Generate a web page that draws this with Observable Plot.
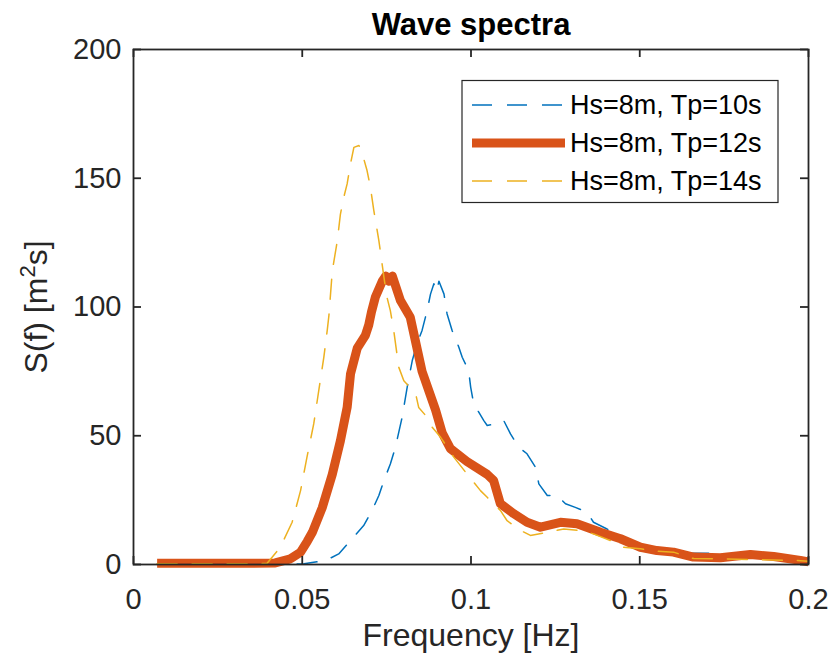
<!DOCTYPE html>
<html><head><meta charset="utf-8">
<script src="https://cdn.jsdelivr.net/npm/d3@7"></script>
<script src="https://cdn.jsdelivr.net/npm/@observablehq/plot@0.6"></script>
<style>html,body{margin:0;padding:0;background:#fff;}#chart{width:831px;height:659px;position:relative;}</style>
</head><body><div id="chart"></div>
<script>
// ---- data ----
const seriesNames = ["Hs=8m, Tp=10s", "Hs=8m, Tp=12s", "Hs=8m, Tp=14s"];
const seriesColors = ["#0072BD", "#D95319", "#EDB120"];

const freqTp10 = [0.007,0.03,0.045,0.0505,0.0569,0.0608,0.0643,0.0682,0.0707,0.0727,0.0742,0.0761,0.0776,0.0796,0.0811,0.0826,0.084,0.0855,0.087,0.088,0.089,0.0898,0.0905,0.092,0.0929,0.0944,0.0964,0.0974,0.0993,0.0999,0.1008,0.1038,0.1048,0.1073,0.1097,0.1117,0.1142,0.1166,0.1191,0.1201,0.1226,0.1255,0.128,0.1309,0.1344,0.1363,0.1403,0.145,0.15,0.155,0.16,0.165,0.17,0.175,0.18,0.19,0.2];
const specTp10 = [0,0,0.1,0.3,1.5,4.1,9.3,15.1,21,26.8,32.6,39,45.5,57.2,68.9,79.2,85.7,90.9,98.6,105,109,106,110,105,97.4,90.9,84.4,80.5,75.3,68.9,62.4,55.9,54,54.6,55.9,50.7,45.5,43,37.8,31.3,26.8,26.8,23.6,22.2,20.3,16.4,13.8,11,8,6.5,5,4.5,4.4,3.5,3,2.5,1.5];

const freqTp12 = [0.007,0.02,0.035,0.042,0.0465,0.0495,0.0515,0.053,0.0559,0.0589,0.0613,0.0633,0.0643,0.0663,0.0687,0.0697,0.0705,0.0717,0.0737,0.0747,0.0757,0.0767,0.0791,0.082,0.084,0.0855,0.0875,0.0895,0.0915,0.0939,0.0988,0.1048,0.1067,0.1087,0.1126,0.1166,0.1206,0.1265,0.1314,0.1384,0.1443,0.1502,0.1551,0.16,0.1659,0.1739,0.1828,0.1897,0.1976,0.2];
const specTp12 = [0.5,0.5,0.5,0.6,2.2,4.8,9,12.5,22,35,48,61,74,84,89,93,98,104,110,112,110,112,102.5,96,84,75,67.5,60,51,45,40,35,32.6,23.6,19.8,16.4,14.5,16.4,15.8,12.5,10,6.7,5.4,4.8,2.9,2.6,3.9,3.1,1.6,1];

const freqTp14 = [0.007,0.02,0.035,0.0396,0.0435,0.047,0.0495,0.0514,0.0534,0.0549,0.0564,0.0574,0.0579,0.0589,0.0604,0.0613,0.0623,0.0633,0.0643,0.0653,0.0668,0.0678,0.0692,0.0702,0.0712,0.0727,0.0742,0.0751,0.0761,0.0771,0.0786,0.0801,0.0836,0.0845,0.087,0.0885,0.091,0.0949,0.0988,0.1028,0.1048,0.1087,0.1107,0.1147,0.1176,0.1226,0.1275,0.1324,0.1363,0.1413,0.1452,0.1502,0.154,0.16,0.166,0.176,0.1857,0.1976,0.2];
const specTp14 = [0.3,0.3,0.3,0.5,6.7,16.4,28.7,41.7,54.6,67.6,80.5,90.9,96.7,114,125.8,136,142.6,147.8,155.6,162,162.7,159.5,153,146.5,137.5,125.8,111.6,103.8,98.6,90.9,76.6,71.4,66.3,61,57.2,53.3,49.4,41.7,35.2,28.7,26.1,21,17,13.2,11.3,12.5,13.8,13.2,11.9,9.3,6.7,6.1,5.2,4.8,2.3,2.1,1.9,1.5,1.3];

const xTicks = [0, 0.05, 0.1, 0.15, 0.2];
const xTickLabels = ["0", "0.05", "0.1", "0.15", "0.2"];
const yTicks = [0, 50, 100, 150, 200];
const yTickLabels = ["0", "50", "100", "150", "200"];
const titleText = "Wave spectra";
const xLabelText = "Frequency [Hz]";
const yLabelParts = ["S(f) [m", "2", "s]"];

// ---- layout ----
const W = 831, H = 659, mL = 133, mR = 23, mT = 49, mB = 95;
const fw = W - mL - mR, fh = H - mT - mB;
const tickLen = 8;
const axisColor = "#262626";
const dash = "20,15";
const font = "'Liberation Sans', Arial, Helvetica, sans-serif";

const rows = (fs, ss) => fs.map((f, i) => ({f, s: ss[i]}));
const rows10 = rows(freqTp10, specTp10);
const rows12 = rows(freqTp12, specTp12);
const rows14 = rows(freqTp14, specTp14);

const plot = Plot.plot({
  width: W, height: H,
  marginLeft: mL, marginRight: mR, marginTop: mT, marginBottom: mB,
  x: {domain: [0, 0.2]},
  y: {domain: [0, 200]},
  style: {fontFamily: font, background: "#fff", color: axisColor, overflow: "visible"},
  marks: [
    Plot.line(rows10, {x: "f", y: "s", stroke: seriesColors[0], strokeWidth: 1.5, strokeDasharray: dash}),
    Plot.line(rows12, {x: "f", y: "s", stroke: seriesColors[1], strokeWidth: 9, strokeLinejoin: "round", strokeLinecap: "butt"}),
    Plot.line(rows14, {x: "f", y: "s", stroke: seriesColors[2], strokeWidth: 1.5, strokeDasharray: dash}),
    Plot.frame({stroke: axisColor, strokeWidth: 1.8}),
    Plot.tickX(xTicks, {x: d => d, insetTop: fh - tickLen, stroke: axisColor, strokeWidth: 1.8}),
    Plot.tickX(xTicks, {x: d => d, insetBottom: fh - tickLen, stroke: axisColor, strokeWidth: 1.8}),
    Plot.tickY(yTicks, {y: d => d, insetRight: fw - tickLen, stroke: axisColor, strokeWidth: 1.8}),
    Plot.tickY(yTicks, {y: d => d, insetLeft: fw - tickLen, stroke: axisColor, strokeWidth: 1.8}),
    Plot.axisX(xTicks, {tickSize: 0, tickPadding: 24, tickFormat: d => xTickLabels[xTicks.indexOf(d)], fontSize: 29, fill: axisColor, label: null}),
    Plot.axisY(yTicks, {tickSize: 0, tickPadding: 12, tickFormat: d => yTickLabels[yTicks.indexOf(d)], fontSize: 29, fill: axisColor, label: null}),
    Plot.text([titleText], {frameAnchor: "top", dy: -37, fontSize: 31, fontWeight: "bold", fill: "#000", textAnchor: "middle"}),
    Plot.text([xLabelText], {frameAnchor: "bottom", dy: 81, fontSize: 32, fill: axisColor, textAnchor: "middle"}),
    Plot.text([yLabelParts.join("")], {frameAnchor: "left", dx: -97, rotate: -90, fontSize: 32, fill: axisColor, textAnchor: "middle", className: "ylab"})
  ]
});
document.getElementById("chart").appendChild(plot);

// y label with superscript
const yl = d3.select(plot).select(".ylab text");
yl.text(null).attr("text-anchor", "middle");
yl.append("tspan").text(yLabelParts[0]);
yl.append("tspan").attr("dy", -12).attr("font-size", 22).text(yLabelParts[1]);
yl.append("tspan").attr("dy", 12).text(yLabelParts[2]);

// legend
const lg = d3.select(plot).append("g").attr("font-family", font).attr("text-anchor", "start");
const box = {x: 462, y: 80.5, w: 316, h: 122};
lg.append("rect").attr("x", box.x).attr("y", box.y).attr("width", box.w).attr("height", box.h)
  .attr("fill", "#fff").attr("stroke", axisColor).attr("stroke-width", 1.2);
const rowY = [105, 143, 181];
const widths = [1.5, 9, 1.5];
const dashes = [dash, null, dash];
seriesNames.forEach((name, i) => {
  lg.append("line").attr("x1", 472).attr("x2", 565).attr("y1", rowY[i]).attr("y2", rowY[i])
    .attr("stroke", seriesColors[i]).attr("stroke-width", widths[i]).attr("stroke-dasharray", dashes[i]);
  lg.append("text").attr("x", 570).attr("y", rowY[i]).attr("dy", "0.35em").attr("text-anchor", "start")
    .attr("font-size", 27).attr("fill", "#000").text(name);
});
</script>
</body></html>
